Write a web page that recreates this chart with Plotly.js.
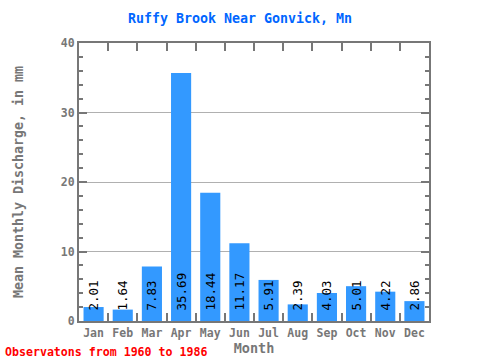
<!DOCTYPE html>
<html>
<head>
<meta charset="utf-8">
<script src="https://cdn.plot.ly/plotly-3.0.1.min.js"></script>
<style>html,body{margin:0;padding:0;background:#fff}#chart{width:480px;height:360px}</style>
</head>
<body>
<div id="chart"></div>
<script>
var months = ["Jan","Feb","Mar","Apr","May","Jun","Jul","Aug","Sep","Oct","Nov","Dec"];
var discharge = [2.01, 1.64, 7.83, 35.69, 18.44, 11.17, 5.91, 2.39, 4.03, 5.01, 4.22, 2.86];
var valueLabels = ["2.01","1.64","7.83","35.69","18.44","11.17","5.91","2.39","4.03","5.01","4.22","2.86"];
var yTicks = [0, 10, 20, 30, 40];

var mono = "DejaVu Sans Mono, Liberation Mono, monospace";
var gray = "#777777";

var trace = {
  type: "bar",
  x: months,
  y: discharge,
  text: valueLabels.map(function (s) { return "\u00a0" + s; }),
  textposition: "inside",
  insidetextanchor: "start",
  textangle: -90,
  constraintext: "none",
  cliponaxis: false,
  textfont: {family: mono, size: 12.5, color: "#000000"},
  marker: {color: "#3399ff", line: {width: 0}},
  hoverinfo: "none"
};

var layout = {
  width: 480, height: 360,
  margin: {l: 79, r: 51, t: 43, b: 39, pad: 0},
  paper_bgcolor: "#ffffff",
  plot_bgcolor: "#ffffff",
  bargap: 0.31,
  showlegend: false,
  title: {
    text: "<b>Ruffy Brook Near Gonvick, Mn</b>",
    font: {family: mono, size: 13.3, color: "#0066ff"},
    x: 0.5, xanchor: "center", y: 0.95, yanchor: "middle"
  },
  xaxis: {
    type: "category",
    showline: true, linecolor: gray, linewidth: 2, mirror: "allticks",
    ticks: "inside", tickson: "boundaries", ticklen: 8, tickcolor: gray, tickwidth: 2,
    tickangle: 0,
    showgrid: false,
    tickfont: {family: mono, size: 11.5, color: gray, weight: "bold"},
    title: {text: "<b>Month</b>", font: {family: mono, size: 13.5, color: gray}, standoff: 1}
  },
  yaxis: {
    range: [0, 40],
    tickvals: yTicks,
    showline: true, linecolor: gray, linewidth: 2, mirror: "allticks",
    ticks: "inside", ticklen: 8, tickcolor: gray, tickwidth: 2,
    showgrid: true, gridcolor: "#b0b0b0", gridwidth: 1,
    zeroline: false,
    tickfont: {family: mono, size: 11.5, color: gray, weight: "bold"},
    minor: {dtick: 2, ticks: "inside", ticklen: 4, tickcolor: gray, tickwidth: 2, showgrid: false},
    title: {text: "<b>Mean Monthly Discharge, in mm</b>", font: {family: mono, size: 13.3, color: gray}, standoff: 34}
  },
  annotations: [{
    text: "<b>Observatons from 1960 to 1986</b>",
    xref: "paper", yref: "paper",
    x: -76/350, y: -(39 + 1) / 278, xanchor: "left", yanchor: "bottom",
    showarrow: false,
    font: {family: mono, size: 11.6, color: "#ff0000"}
  }]
};

Plotly.newPlot("chart", [trace], layout, {staticPlot: true});
</script>
</body>
</html>
